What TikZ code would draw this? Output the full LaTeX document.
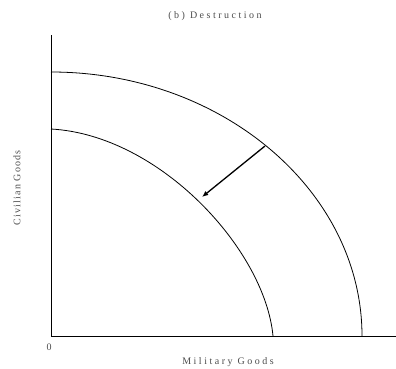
\documentclass[tikz,border=0pt]{standalone}
\usepackage{fontspec}
\setmainfont{Liberation Serif}
\usepackage{tikz}
\usetikzlibrary{arrows.meta,positioning}

\begin{document}
\begin{tikzpicture}[
   x=1pt,y=-1pt,
   font=\fontsize{10}{12}\selectfont,
   axis/.style={line width=1pt,black},
   ppf/.style={line width=0.8pt,black},
   move/.style={-{Latex[length=2.2mm,width=1.8mm]},line width=1.3pt,black},
   lbl/.style={inner sep=0pt,text=black!70,font=\fontsize{10}{12}\selectfont\addfontfeatures{LetterSpace=25}}]
   \useasboundingbox (0,0) rectangle (396,368);
   % axes
   \coordinate (origin) at (51,336);
   \coordinate (ytop) at (51,35);
   \coordinate (xend) at (396,336);
   \draw[axis] (ytop) -- (origin) -- (xend);
   % frontier before and after
   \draw[ppf] (51,72) .. controls (222,72) and (362,191) .. (362,336);
   \draw[ppf] (51,129) .. controls (160,135) and (265,250) .. (273,336);
   % shift inward
   \coordinate (before) at (265,146);
   \coordinate (after) at (202,197);
   \draw[move] (before) -- (after);
   % labels
   \node[lbl] (title) at (215,16) {(b) Destruction};
   \node[lbl] (zero) at (49,347) {0};
   \node[lbl] (xlabel) at (228,362) {Military Goods};
   \node[lbl,rotate=90,font=\fontsize{10}{12}\selectfont\addfontfeatures{LetterSpace=12}] (ylabel) at (17,188) {Civilian Goods};
\end{tikzpicture}
\end{document}
